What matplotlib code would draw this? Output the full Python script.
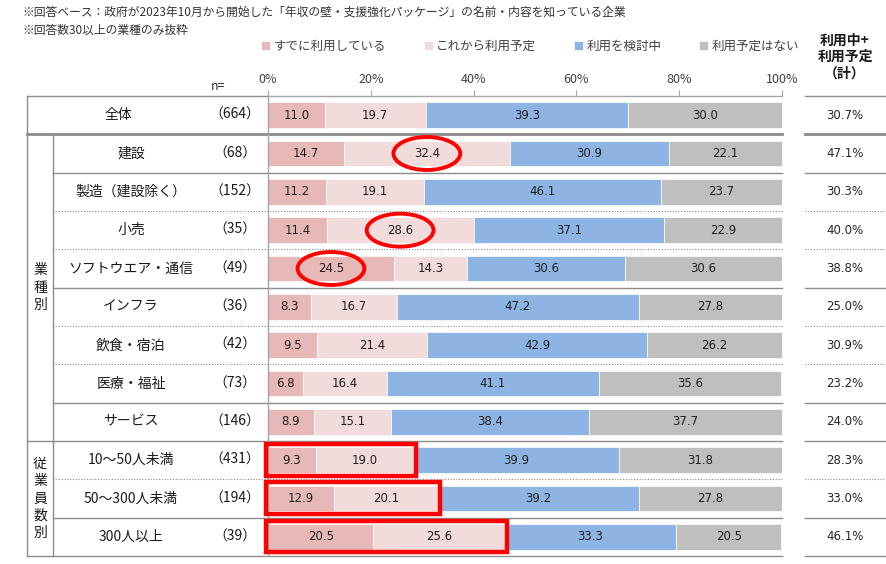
import matplotlib
matplotlib.use("Agg")
import matplotlib.pyplot as plt
import matplotlib.transforms as mtransforms
from matplotlib.patches import Ellipse, Rectangle

plt.rcParams['font.family'] = ['Noto Sans CJK JP', 'DejaVu Sans']

rows = ['全体', '建設', '製造（建設除く）', '小売', 'ソフトウエア・通信', 'インフラ',
        '飲食・宿泊', '医療・福祉', 'サービス', '10～50人未満', '50～300人未満', '300人以上']
n_values = [664, 68, 152, 35, 49, 36, 42, 73, 146, 431, 194, 39]
already = [11.0, 14.7, 11.2, 11.4, 24.5, 8.3, 9.5, 6.8, 8.9, 9.3, 12.9, 20.5]
planned = [19.7, 32.4, 19.1, 28.6, 14.3, 16.7, 21.4, 16.4, 15.1, 19.0, 20.1, 25.6]
considering = [39.3, 30.9, 46.1, 37.1, 30.6, 47.2, 42.9, 41.1, 38.4, 39.9, 39.2, 33.3]
no_plan = [30.0, 22.1, 23.7, 22.9, 30.6, 27.8, 26.2, 35.6, 37.7, 31.8, 27.8, 20.5]
total_use = [30.7, 47.1, 30.3, 40.0, 38.8, 25.0, 30.9, 23.2, 24.0, 28.3, 33.0, 46.1]

series_names = ['すでに利用している', 'これから利用予定', '利用を検討中', '利用予定はない']
series_colors = ['#E6B8B7', '#F2DCDB', '#8DB4E2', '#BFBFBF']
series = [already, planned, considering, no_plan]

# separator below each row
separators = ['thick', 'solid', 'dot', 'dot', 'solid', 'dot', 'dot', 'solid',
              'full', 'dot', 'solid']
groups = [('業\n種\n別', 1, 8), ('従\n業\n員\n数\n別', 9, 11)]
circled = [(1, 1), (3, 1), (4, 0)]   # (row, series)
boxed = [9, 10, 11]

W, H = 886, 564
fig = plt.figure(figsize=(W / 100, H / 100), dpi=100)
ax = fig.add_axes([268 / W, 1 - 556 / H, 514 / W, 460 / H])

num_font = ['DejaVu Sans']

ypos = list(range(len(rows)))
left = [0.0] * len(rows)
for vals, name, col in zip(series, series_names, series_colors):
    ax.barh(ypos, vals, left=left, height=0.67, color=col, label=name,
            edgecolor='white', linewidth=0.5, zorder=2)
    for i, v in enumerate(vals):
        ax.text(left[i] + v / 2, i, f'{v:.1f}', ha='center', va='center',
                fontsize=8.5, family=num_font, color='#1F1F1F', zorder=3)
    left = [a + b for a, b in zip(left, vals)]

ax.set_xlim(0, 100)
ax.set_ylim(len(rows) - 0.5, -0.5)
ax.xaxis.tick_top()
ax.set_xticks(range(0, 101, 20))
ax.set_xticklabels([f'{v}%' for v in range(0, 101, 20)])
ax.tick_params(axis='x', length=4, color='#A6A6A6', labelsize=9, pad=3,
               labelcolor='#404040')
ax.set_yticks([])
for s in ['right', 'bottom']:
    ax.spines[s].set_visible(False)
for s in ['top', 'left']:
    ax.spines[s].set_color('#A6A6A6')
    ax.spines[s].set_linewidth(1.0)

trans = mtransforms.blended_transform_factory(fig.transFigure, ax.transData)
lc = '#8C8C8C'


def hline(y, x0, x1, style):
    kw = dict(color=lc, lw=1.0, ls='-')
    if style == 'dot':
        kw.update(lw=0.8, ls=(0, (1, 1.5)))
    elif style == 'thick':
        kw.update(lw=2.0)
    ax.plot([x0 / W, x1 / W], [y, y], transform=trans, clip_on=False,
            zorder=1, **kw)


# table borders
hline(-0.5, 27, 268, 'solid')
hline(-0.5, 805, 886, 'solid')
for i, st in enumerate(separators):
    x0 = 27 if st in ('thick', 'full') else 53
    style = 'solid' if st == 'full' else st
    hline(i + 0.5, x0, 782, style)
    hline(i + 0.5, 805, 886, style)
hline(len(rows) - 0.5, 27, 782, 'solid')
hline(len(rows) - 0.5, 805, 886, 'solid')
ax.plot([27 / W, 27 / W], [-0.5, len(rows) - 0.5], transform=trans,
        clip_on=False, color=lc, lw=1.0)
ax.plot([53 / W, 53 / W], [0.5, len(rows) - 0.5], transform=trans,
        clip_on=False, color=lc, lw=1.0)

# row labels, n, totals
for i, name in enumerate(rows):
    xc = 118 if i == 0 else 131
    ax.text(xc / W, i, name, transform=trans, ha='center', va='center',
            fontsize=10, color='#1A1A1A')
    ax.text(235 / W, i, f'（{n_values[i]}）', transform=trans, ha='center',
            va='center', fontsize=10, color='#1A1A1A')
    ax.text(845 / W, i, f'{total_use[i]:.1f}%', transform=trans, ha='center',
            va='center', fontsize=8.5, family=num_font, color='#262626')
for label, r0, r1 in groups:
    ax.text(40 / W, (r0 + r1) / 2, label, transform=trans, ha='center',
            va='center', fontsize=10, linespacing=1.3, color='#1A1A1A')

# red annotations
for r, s in circled:
    start = sum(series[k][r] for k in range(s))
    xc = start + series[s][r] / 2
    ax.add_patch(Ellipse((xc, r), 13.0, 0.86, fill=False, ec='#FF0000',
                         lw=2.8, zorder=4, clip_on=False))
for r in boxed:
    w = already[r] + planned[r]
    ax.add_patch(Rectangle((-0.4, r - 0.42), w + 0.8, 0.82, fill=False,
                           ec='#FF0000', lw=3.2, zorder=4, clip_on=False))

# texts at top
fig.text(22 / W, 1 - 12 / H,
         '※回答ベース：政府が2023年10月から開始した「年収の壁・支援強化パッケージ」の名前・内容を知っている企業',
         ha='left', va='center', fontsize=8.5, color='#333333')
fig.text(22 / W, 1 - 30 / H, '※回答数30以上の業種のみ抜粋',
         ha='left', va='center', fontsize=8.5, color='#333333')
fig.text(218 / W, 1 - 86 / H, 'n=', ha='center', va='center', fontsize=9,
         color='#333333')
fig.text(845 / W, 1 - 57 / H, '利用中+\n利用予定\n（計）', ha='center',
         va='center', fontsize=10, fontweight='bold', linespacing=1.25,
         color='#1A1A1A')

handles, labels = ax.get_legend_handles_labels()
fig.legend(handles, labels, ncol=4, loc='center',
           bbox_to_anchor=(530 / W, 1 - 46 / H), frameon=False, fontsize=9,
           handlelength=0.7, handleheight=0.7, handletextpad=0.3,
           columnspacing=3.0, labelcolor='#404040')

fig.savefig('out.png', dpi=100)
